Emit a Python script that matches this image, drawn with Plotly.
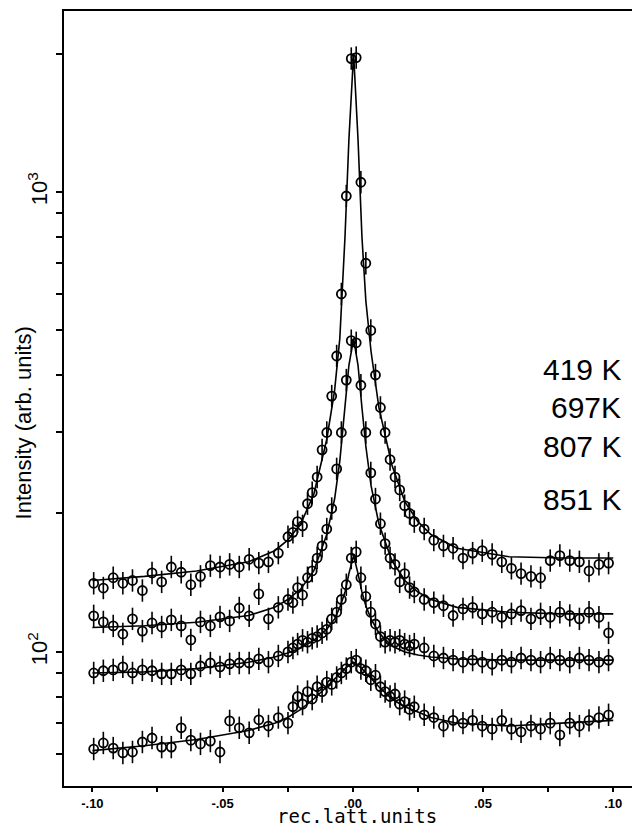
import plotly.graph_objects as go

# x grid of the scans (rec. latt. units): coarse wings, finer steps around the peak
x_grid = [-0.0995, -0.0958, -0.0920, -0.0883, -0.0846, -0.0808, -0.0771, -0.0734, -0.0697,
          -0.0659, -0.0622, -0.0585, -0.0547, -0.0510, -0.0473, -0.0436, -0.0398, -0.0361,
          -0.0324, -0.0286, -0.0249,
          -0.0230, -0.0212, -0.0193, -0.0174, -0.0156, -0.0137, -0.0118, -0.0100, -0.0081,
          -0.0062, -0.0044, -0.0025, -0.0006, 0.0013, 0.0031, 0.0050, 0.0069, 0.0087,
          0.0106, 0.0124, 0.0143, 0.0162, 0.0180, 0.0199, 0.0218,
          0.0236, 0.0274, 0.0311, 0.0348, 0.0385, 0.0423, 0.0460, 0.0497, 0.0535, 0.0572,
          0.0609, 0.0646, 0.0684, 0.0721, 0.0758, 0.0795, 0.0833, 0.0870, 0.0907, 0.0945,
          0.0982]

i419 = [141, 137.7, 145, 141, 143, 136, 148.5, 142, 153, 149, 140, 146, 154, 153, 155, 153, 159,
        156, 157, 164, 178,
        182, 192, 188, 210, 222, 240, 275, 300, 360, 440, 600, 980, 1950, 1960, 1050, 700, 500,
        400, 340, 300, 262, 240, 225, 208, 200,
        192, 185, 175, 170, 168, 160, 164, 166, 163, 157, 152, 148, 146, 145, 158, 162, 158, 157,
        150, 155, 156]
i697 = [119.8, 116.2, 113.9, 109.4, 118, 111, 115.6, 113.3, 117.4, 113.9, 106.2, 116.2, 113.9,
        119.2, 116.8, 124.6, 119.8, 133.7, 118, 125, 130,
        128, 138, 133, 145, 150, 160, 170, 185, 205, 250, 300, 390, 475, 470, 380, 300, 245,
        215, 190, 172, 160, 155, 142, 148, 138,
        135, 130, 128, 126, 120, 124, 125, 121, 122, 119, 121, 123, 118, 121, 119, 122, 120, 118,
        122, 119, 110]
i807 = [90.0, 91.0, 91.4, 92.8, 90, 91.4, 91, 89.6, 89.6, 91.4, 89.6, 93.2, 94.6, 92.8, 94.2, 94.6,
        94.6, 96.6, 95, 98, 100,
        102, 104, 106, 105, 107, 108, 110, 112, 118, 122, 130, 140, 160, 165, 145, 132, 122, 115,
        108, 105, 106, 105, 106, 104, 103,
        104, 102, 98, 97, 96, 95, 96, 95, 94, 96, 95, 97, 96, 95, 97, 96, 95, 97, 96, 95, 96]
i851 = [61.5, 63.4, 61.8, 60.3, 60.6, 63.7, 65, 62.1, 62.1, 68.4, 64.3, 63.1, 64, 60.6, 70.8, 68.4,
        66.7, 71.2, 69, 72, 70,
        76, 80, 77, 82, 79, 84, 82, 86, 85, 88, 90, 92, 95, 96, 92, 91, 87, 89, 84, 82, 80, 81,
        77, 78, 75,
        76, 73, 72, 69, 71, 70, 71, 69, 68, 71, 68, 67, 69, 68, 70, 66, 70, 69, 71, 72, 73]

# fitted curves
fit_x = [-0.1, -0.08, -0.06, -0.04, -0.03, -0.025, -0.02, -0.015, -0.01, -0.007, -0.005, -0.003,
         -0.0015, 0.0003, 0.002, 0.0035, 0.005, 0.007, 0.01, 0.015, 0.02, 0.025, 0.03, 0.04,
         0.06, 0.08, 0.1]
fit419 = [143, 146, 150, 157, 166, 175, 190, 220, 290, 370, 480, 800, 1300, 2000, 1300, 800, 580,
          450, 340, 255, 212, 192, 180, 168, 161, 160, 160]
fit697 = [113, 114, 116, 120, 125, 130, 137, 150, 180, 215, 260, 340, 420, 480, 420, 340, 280,
          230, 190, 158, 143, 135, 130, 125, 122, 121, 121]
fit807 = [90, 90.5, 92, 95, 97.5, 99.5, 102, 106, 112, 118, 125, 135, 148, 162, 148, 135, 126,
          118, 110, 103, 100, 98.5, 97.5, 96.5, 96, 96, 96]
fit851 = [61, 62.5, 64.5, 67.5, 70, 72, 75, 79, 84, 87.5, 89.5, 92, 93.5, 95, 93.5, 92, 90, 87.5,
          84, 79, 76, 74, 72, 70, 69, 70, 71]

temps = ["419 K", "697K", "807 K", "851 K"]

x_tickvals = [-0.1, -0.075, -0.05, -0.025, 0, 0.025, 0.05, 0.075, 0.1]
x_ticktext = ["-.10", "", "-.05", "", ".00", "", ".05", "", ".10"]
y_tickvals = [60, 70, 80, 90, 100, 200, 300, 400, 500, 600, 700, 800, 900, 1000, 2000]
y_ticktext = ["", "", "", "", "10<sup>2</sup>", "", "", "", "", "", "", "", "", "10<sup>3</sup>", ""]

fig = go.Figure()
for fy in [fit419, fit697, fit807, fit851]:
    fig.add_trace(go.Scatter(x=fit_x, y=fy, mode="lines",
                             line=dict(color="black", width=1.6), showlegend=False,
                             hoverinfo="skip"))
for sy in [i419, i697, i807, i851]:
    fig.add_trace(go.Scatter(x=x_grid, y=sy, mode="markers",
                             marker=dict(symbol="line-ns-open", size=16, color="black",
                                         line=dict(color="black", width=1.6)),
                             showlegend=False))
    fig.add_trace(go.Scatter(x=x_grid, y=sy, mode="markers",
                             marker=dict(symbol="circle-open", size=9, color="black",
                                         line=dict(color="black", width=1.8)),
                             showlegend=False))

label_y = [0.538, 0.489, 0.438, 0.37]
for t, yy in zip(temps, label_y):
    fig.add_annotation(xref="paper", yref="paper", x=0.985, y=yy, text=t, showarrow=False,
                       xanchor="right", yanchor="middle",
                       font=dict(family="Liberation Sans, Arial, sans-serif", size=30,
                                 color="black"))

# axis titles
fig.add_annotation(xref="paper", yref="paper", x=0.516, y=-0.0555, text="rec.latt.units",
                   showarrow=False, xanchor="center", yanchor="bottom",
                   font=dict(family="DejaVu Sans Mono, monospace", size=19, color="black"))
fig.add_annotation(xref="paper", yref="paper", x=-0.072, y=0.468,
                   text="Intensity (arb. units)", textangle=-90,
                   showarrow=False, xanchor="center", yanchor="middle",
                   font=dict(family="Liberation Sans, Arial, sans-serif", size=22,
                             color="black"))

fig.update_layout(
    width=632, height=828,
    margin=dict(l=64, r=0, t=11, b=42),
    paper_bgcolor="white", plot_bgcolor="white",
    font=dict(family="Liberation Sans, Arial, sans-serif", color="black"),
    xaxis=dict(range=[-0.1109, 0.1072], showgrid=False, zeroline=False,
               showline=True, linecolor="black", linewidth=2, mirror=True,
               ticks="outside", ticklen=4, tickwidth=1.5, tickcolor="black",
               tickvals=x_tickvals, ticktext=x_ticktext,
               tickfont=dict(family="Liberation Sans, Arial, sans-serif", size=13,
                             weight="bold")),
    yaxis=dict(type="log", range=[1.7085, 3.3935], showgrid=False, zeroline=False,
               showline=True, linecolor="black", linewidth=2, mirror=False,
               ticks="outside", ticklen=6, tickwidth=1.5, tickcolor="black",
               tickvals=y_tickvals, ticktext=y_ticktext, tickangle=-90,
               tickfont=dict(size=22)),
)

fig.write_html("out.html")
